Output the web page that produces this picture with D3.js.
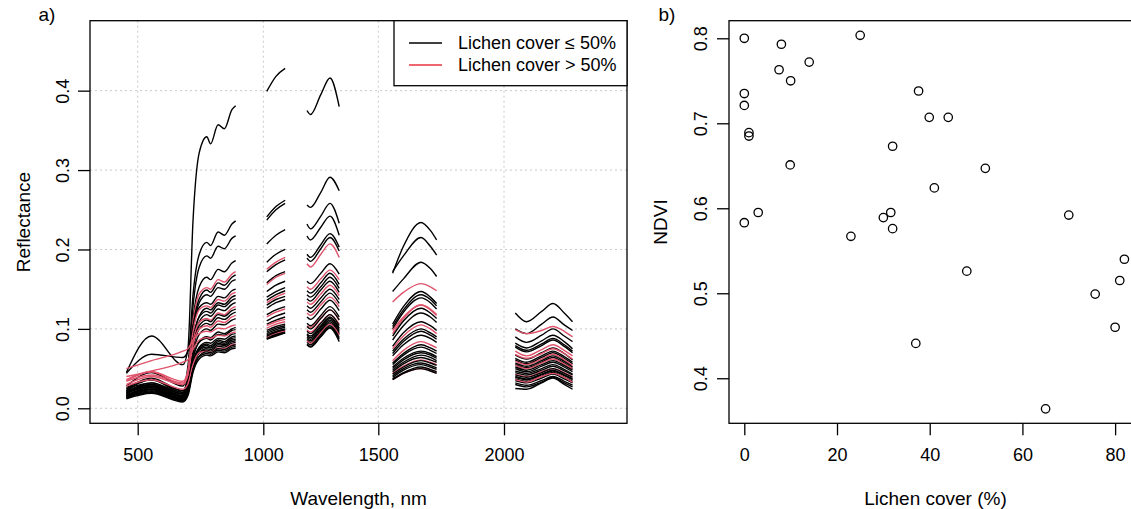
<!DOCTYPE html>
<html><head><meta charset="utf-8">
<script src="https://cdn.jsdelivr.net/npm/d3@7"></script>
<style>
body{margin:0;background:#fff}
svg{display:block}
text{font-family:"Liberation Sans",Arial,Helvetica,sans-serif;fill:#000}
</style>
</head><body>
<svg id="c" width="1131" height="509"></svg>
<script>
// ---------- Panel a: spectra ----------
// wavelength knots (nm) of each measured band segment
const wlVis   = [455, 555, 680, 700, 720, 745, 775, 790, 820, 845, 875, 890];
const wlNir1  = [1015, 1055, 1095];
const wlNir2  = [1190, 1205, 1250, 1290, 1330];
const wlSwir1 = [1557, 1600, 1670, 1707, 1732];
const wlSwir2 = [2045, 2090, 2150, 2195, 2240, 2273];

// 1 = lichen cover > 50 %, 0 = lichen cover <= 50 %
const curveGroup = [0,0,0,0,1,0,0,0,1,0,0,0,1,0,0,1,0,1,0,0,1,0,0,0,0,0,0,1,0,0,0];

const reflVis = [
 [.045,.091,.055,.075,.235,.322,.342,.333,.357,.352,.376,.381],
 [.028,.045,.028,.053,.142,.194,.209,.205,.222,.218,.232,.236],
 [.022,.036,.020,.044,.128,.178,.192,.189,.204,.201,.214,.217],
 [.024,.038,.022,.042,.112,.153,.165,.162,.175,.172,.183,.186],
 [.035,.046,.030,.047,.108,.144,.152,.150,.162,.159,.169,.172],
 [.020,.032,.018,.036,.101,.138,.149,.146,.158,.155,.165,.168],
 [.018,.030,.016,.034,.096,.133,.143,.141,.152,.150,.160,.162],
 [.044,.068,.064,.072,.104,.127,.133,.131,.141,.139,.148,.150],
 [.036,.046,.034,.047,.096,.124,.129,.127,.137,.135,.144,.146],
 [.016,.026,.014,.029,.084,.116,.126,.124,.133,.131,.140,.142],
 [.026,.036,.022,.036,.086,.115,.122,.120,.130,.128,.136,.138],
 [.014,.024,.012,.027,.079,.109,.118,.116,.125,.123,.131,.133],
 [.030,.040,.030,.042,.084,.108,.113,.111,.120,.118,.126,.128],
 [.021,.030,.018,.031,.077,.104,.111,.109,.118,.116,.123,.125],
 [.019,.028,.016,.029,.074,.100,.107,.105,.114,.112,.119,.121],
 [.034,.042,.032,.042,.079,.100,.104,.102,.110,.108,.115,.117],
 [.017,.026,.014,.026,.068,.093,.100,.098,.106,.105,.111,.113],
 [.050,.060,.072,.075,.086,.094,.097,.096,.101,.100,.104,.105],
 [.015,.024,.012,.023,.062,.084,.090,.089,.096,.094,.100,.102],
 [.024,.032,.020,.030,.064,.083,.088,.086,.093,.092,.098,.099],
 [.040,.047,.058,.061,.074,.086,.089,.088,.092,.091,.095,.096],
 [.013,.021,.010,.020,.056,.077,.083,.082,.088,.087,.093,.094],
 [.022,.030,.018,.027,.058,.076,.081,.079,.086,.084,.090,.091],
 [.016,.024,.013,.022,.055,.074,.079,.077,.084,.082,.088,.089],
 [.019,.027,.015,.024,.055,.073,.077,.076,.082,.080,.086,.087],
 [.014,.022,.011,.020,.052,.070,.075,.074,.080,.079,.084,.085],
 [.020,.028,.016,.024,.053,.070,.073,.072,.078,.077,.082,.083],
 [.028,.036,.024,.031,.055,.070,.072,.070,.076,.075,.080,.081],
 [.013,.020,.009,.018,.048,.066,.071,.070,.075,.074,.079,.080],
 [.017,.024,.012,.020,.048,.065,.069,.068,.073,.072,.077,.078],
 [.012,.019,.008,.016,.045,.062,.067,.066,.071,.070,.075,.076]
];
const reflNir1 = [
 [.399,.418,.428],[.241,.254,.262],[.237,.250,.258],[.207,.218,.225],[.175,.184,.190],
 [.184,.194,.200],[.172,.181,.187],[.158,.167,.172],[.156,.165,.170],[.147,.155,.160],
 [.140,.147,.152],[.136,.143,.148],[.133,.140,.145],[.130,.137,.141],[.126,.133,.137],
 [.115,.121,.125],[.118,.124,.128],[.101,.106,.109],[.110,.116,.120],[.106,.111,.115],
 [.104,.109,.112],[.098,.103,.106],[.096,.101,.104],[.094,.099,.102],[.092,.097,.100],
 [.091,.096,.099],[.090,.095,.098],[.089,.094,.097],[.088,.093,.096],[.087,.092,.095],
 [.087,.091,.095]
];
const reflNir2 = [
 [.375,.370,.395,.416,.380],[.256,.253,.272,.291,.274],[.232,.226,.242,.258,.233],
 [.217,.212,.228,.242,.218],[.182,.178,.194,.207,.190],[.194,.190,.206,.220,.203],
 [.189,.185,.201,.215,.198],[.160,.157,.170,.182,.169],[.153,.150,.163,.174,.162],
 [.148,.145,.158,.170,.156],[.143,.140,.153,.165,.151],[.138,.135,.149,.160,.146],
 [.134,.131,.144,.155,.142],[.129,.126,.139,.150,.137],[.124,.121,.134,.145,.132],
 [.120,.117,.130,.140,.128],[.115,.112,.125,.136,.123],[.104,.102,.114,.124,.112],
 [.107,.104,.117,.128,.115],[.103,.100,.113,.124,.111],[.099,.096,.108,.118,.106],
 [.097,.094,.107,.118,.104],[.094,.091,.104,.115,.101],[.092,.089,.102,.113,.099],
 [.090,.087,.100,.111,.097],[.088,.085,.098,.109,.095],[.086,.083,.096,.107,.093],
 [.085,.082,.095,.106,.092],[.083,.080,.093,.104,.089],[.081,.078,.091,.102,.087],
 [.080,.077,.090,.101,.084]
];
const reflSwir1 = [
 null,
 [.170,.204,.234,.224,.212],[.172,.192,.215,.204,.193],[.147,.163,.184,.176,.166],
 [.134,.146,.157,.153,.148],[.106,.128,.147,.140,.132],[.103,.124,.143,.137,.129],
 [.100,.121,.139,.133,.125],[.094,.113,.130,.124,.117],[.091,.110,.126,.120,.113],
 [.086,.104,.120,.115,.108],[.078,.095,.109,.104,.098],[.075,.091,.105,.100,.094],
 [.072,.087,.100,.095,.090],[.069,.084,.097,.092,.087],[.060,.073,.084,.080,.076],
 [.066,.080,.092,.088,.083],[.098,.115,.130,.125,.118],[.057,.069,.080,.076,.072],
 [.055,.067,.077,.073,.069],[.044,.053,.061,.058,.055],[.052,.063,.072,.069,.065],
 [.050,.061,.070,.067,.063],[.048,.058,.067,.064,.060],[.046,.056,.064,.061,.058],
 [.043,.052,.060,.057,.054],[.041,.050,.057,.054,.051],[.036,.044,.050,.048,.045],
 [.039,.048,.055,.052,.049],[.037,.045,.052,.049,.046],[.036,.044,.050,.047,.044]
];
const reflSwir2 = [
 null,
 [.120,.109,.122,.132,.120,.109],[.100,.094,.106,.115,.105,.098],[.090,.083,.092,.100,.091,.084],
 [.099,.094,.098,.103,.097,.090],[.082,.076,.085,.092,.084,.075],[.079,.073,.081,.088,.080,.072],
 [.077,.071,.079,.086,.078,.070],[.072,.066,.074,.080,.073,.066],[.067,.062,.070,.076,.069,.061],
 [.063,.058,.066,.072,.065,.058],[.061,.056,.064,.070,.063,.056],[.059,.055,.062,.068,.061,.054],
 [.057,.053,.060,.066,.059,.052],[.055,.051,.058,.064,.057,.050],[.054,.050,.057,.062,.056,.050],
 [.052,.048,.055,.060,.054,.048],[.068,.063,.069,.075,.069,.062],[.050,.046,.053,.058,.052,.046],
 [.047,.044,.050,.055,.049,.043],[.043,.040,.046,.050,.045,.040],[.045,.042,.048,.053,.047,.042],
 [.042,.039,.045,.050,.044,.039],[.040,.037,.043,.048,.042,.037],[.039,.036,.042,.047,.041,.036],
 [.037,.034,.040,.045,.039,.034],[.035,.032,.038,.043,.037,.032],[.036,.033,.040,.044,.039,.033],
 [.032,.029,.035,.040,.034,.029],[.030,.027,.033,.039,.032,.027],[.025,.024,.032,.038,.030,.024]
];

const xTicksA = [500, 1000, 1500, 2000];
const yTicksA = [0, 0.1, 0.2, 0.3, 0.4];
const legendLabels = ["Lichen cover \u2264 50%", "Lichen cover > 50%"];

// ---------- Panel b: NDVI vs lichen cover ----------
const coverPct = [0, 8, 25, 14, 7.5, 10, 0, 0, 1, 1, 9.9, 0, 3, 37.6, 39.9, 44, 32, 52, 41, 30, 31.6, 32, 23, 70, 48, 37, 65, 75.7, 80, 81, 82];
const ndvi     = [0.800, 0.793, 0.8035, 0.772, 0.763, 0.750, 0.735, 0.721, 0.689, 0.685, 0.651, 0.583, 0.595, 0.738, 0.707, 0.707, 0.673, 0.647, 0.624, 0.589, 0.595, 0.576, 0.567, 0.592, 0.526, 0.441, 0.364, 0.499, 0.460, 0.515, 0.540];
const xTicksB = [0, 20, 40, 60, 80];
const yTicksB = [0.4, 0.5, 0.6, 0.7, 0.8];

// ---------- drawing ----------
const BLACK = "#000000", RED = "#DF536B", LEGRED = "#e8353f";
const FS = 18;
const FONT = "'Liberation Sans',Arial,sans-serif";
const svg = d3.select("#c");
const fmt1 = d3.format(".1f");

const plotTop = 20.7, plotBottom = 423.3;
const xA = d3.scaleLinear().domain([310, 500, 1000, 1500, 2000, 2490]).range([90, 137.7, 263.3, 378.3, 504, 627]);
const yA = d3.scaleLinear().domain([-0.0189, 0.4881]).range([plotBottom, plotTop]);
const xB = d3.scaleLinear().domain([-3.3, 85.8]).range([729, 1142]);
const yB = d3.scaleLinear().domain([0.347, 0.8207]).range([plotBottom, plotTop]);

svg.append("defs").append("clipPath").attr("id", "clipA")
  .append("rect").attr("x", 90).attr("y", plotTop).attr("width", 537).attr("height", plotBottom - plotTop);

// grid a
const gridA = svg.append("g").attr("clip-path", "url(#clipA)")
  .attr("stroke", "#c8c8c8").attr("stroke-width", 1).attr("stroke-dasharray", "2,3");
gridA.selectAll(".gv").data(xTicksA).join("line").attr("class", "gv")
  .attr("x1", d => xA(d)).attr("x2", d => xA(d)).attr("y1", plotTop).attr("y2", plotBottom);
gridA.selectAll(".gh").data(yTicksA).join("line").attr("class", "gh")
  .attr("x1", 90).attr("x2", 627).attr("y1", d => yA(d)).attr("y2", d => yA(d));

// spectra
const segW = [wlVis, wlNir1, wlNir2, wlSwir1, wlSwir2];
const segR = [reflVis, reflNir1, reflNir2, reflSwir1, reflSwir2];
const line = d3.line().x(d => xA(d[0])).y(d => yA(d[1])).curve(d3.curveMonotoneX);
const gCurves = svg.append("g").attr("clip-path", "url(#clipA)").attr("fill", "none")
  .attr("stroke-width", 1.4).attr("stroke-linejoin", "round");
curveGroup.forEach((grp, i) => {
  segR.forEach((seg, s) => {
    const vals = seg[i];
    if (!vals) return;
    const pts = segW[s].map((w, k) => [w, vals[k]]);
    gCurves.append("path").attr("d", line(pts)).attr("stroke", grp ? RED : BLACK);
  });
});

// axes a
const axAx = svg.append("g").attr("transform", `translate(0,${plotBottom})`)
  .call(d3.axisBottom(xA).tickValues(xTicksA).tickSize(12).tickFormat(d3.format("d")));
axAx.select(".domain").remove();
axAx.selectAll("line").attr("stroke", "#000").attr("stroke-width", 1.3);
axAx.selectAll("text").attr("y", 25).attr("dy", "0.71em").style("font-size", FS + "px")
  .style("font-family", FONT);

const axAy = svg.append("g").attr("transform", "translate(90,0)")
  .call(d3.axisLeft(yA).tickValues(yTicksA).tickSize(12).tickFormat(fmt1));
axAy.select(".domain").remove();
axAy.selectAll("line").attr("stroke", "#000").attr("stroke-width", 1.3);
axAy.selectAll("text").attr("x", 0).attr("y", 0).attr("dy", "0.35em")
  .attr("text-anchor", "middle").attr("transform", "translate(-27,0) rotate(-90)")
  .style("font-size", FS + "px").style("font-family", FONT);

svg.append("rect").attr("x", 90).attr("y", plotTop).attr("width", 537).attr("height", plotBottom - plotTop)
  .attr("fill", "none").attr("stroke", "#000").attr("stroke-width", 1.3);

// legend
const lg = svg.append("g");
lg.append("rect").attr("x", 394).attr("y", plotTop).attr("width", 233).attr("height", 65)
  .attr("fill", "#fff").attr("stroke", "#000").attr("stroke-width", 1.3);
legendLabels.forEach((lab, i) => {
  const yy = 43 + i * 22;
  lg.append("line").attr("x1", 409).attr("x2", 442).attr("y1", yy).attr("y2", yy)
    .attr("stroke", i ? LEGRED : BLACK).attr("stroke-width", 1.4);
  lg.append("text").attr("x", 458).attr("y", yy + 6.3).style("font-size", FS + "px").text(lab);
});

// titles a
svg.append("text").attr("x", 358.5).attr("y", 504.5).attr("text-anchor", "middle")
  .style("font-size", "19px").text("Wavelength, nm");
svg.append("text").attr("transform", "translate(29.5,222) rotate(-90)").attr("text-anchor", "middle")
  .style("font-size", "19px").text("Reflectance");
svg.append("text").attr("x", 47).attr("y", 20.5).attr("text-anchor", "middle")
  .style("font-size", "19px").text("a)");

// ---------- panel b ----------
const axBx = svg.append("g").attr("transform", `translate(0,${plotBottom})`)
  .call(d3.axisBottom(xB).tickValues(xTicksB).tickSize(12).tickFormat(d3.format("d")));
axBx.select(".domain").remove();
axBx.selectAll("line").attr("stroke", "#000").attr("stroke-width", 1.3);
axBx.selectAll("text").attr("y", 25).attr("dy", "0.71em").style("font-size", FS + "px")
  .style("font-family", FONT);

const axBy = svg.append("g").attr("transform", "translate(729,0)")
  .call(d3.axisLeft(yB).tickValues(yTicksB).tickSize(12).tickFormat(fmt1));
axBy.select(".domain").remove();
axBy.selectAll("line").attr("stroke", "#000").attr("stroke-width", 1.3);
axBy.selectAll("text").attr("x", 0).attr("y", 0).attr("dy", "0.35em")
  .attr("text-anchor", "middle").attr("transform", "translate(-28,0) rotate(-90)")
  .style("font-size", FS + "px").style("font-family", FONT);

svg.append("rect").attr("x", 729).attr("y", plotTop).attr("width", 413).attr("height", plotBottom - plotTop)
  .attr("fill", "none").attr("stroke", "#000").attr("stroke-width", 1.3);

svg.append("g").selectAll("circle").data(coverPct).join("circle")
  .attr("cx", d => xB(d)).attr("cy", (d, i) => yB(ndvi[i])).attr("r", 4.2)
  .attr("fill", "none").attr("stroke", "#000").attr("stroke-width", 1.3);

svg.append("text").attr("x", 935.5).attr("y", 504.5).attr("text-anchor", "middle")
  .style("font-size", "19px").text("Lichen cover (%)");
svg.append("text").attr("transform", "translate(667,222) rotate(-90)").attr("text-anchor", "middle")
  .style("font-size", "19px").text("NDVI");
svg.append("text").attr("x", 667).attr("y", 20.5).attr("text-anchor", "middle")
  .style("font-size", "19px").text("b)");
</script>
</body></html>
